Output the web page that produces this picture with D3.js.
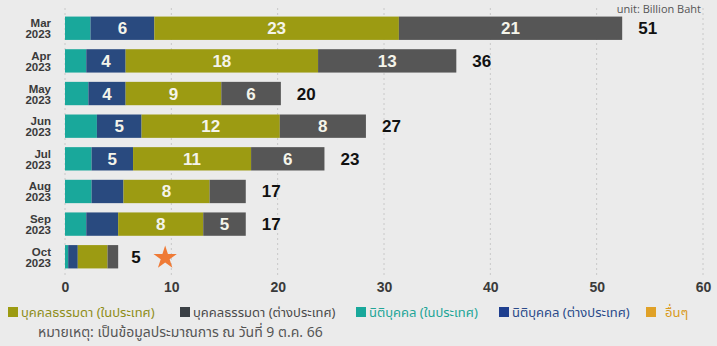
<!DOCTYPE html>
<html><head><meta charset="utf-8">
<script src="https://cdn.jsdelivr.net/npm/d3@7"></script>
<style>
html,body{margin:0;padding:0;background:#ebebeb;}
svg{display:block;}
</style></head>
<body>
<script>
// ---- data ----
const months = ["Mar","Apr","May","Jun","Jul","Aug","Sep","Oct"];
const years = ["2023","2023","2023","2023","2023","2023","2023","2023"];
const seriesKeys = ["corpDom","corpFor","indDom","indFor"];
const corpDom = [2.4, 2.0, 2.2, 3.0, 2.5, 2.5, 2.0, 0.3];   // นิติบุคคล (ในประเทศ)
const corpFor = [6.0, 3.7, 3.5, 4.2, 3.9, 3.0, 3.0, 0.9];   // นิติบุคคล (ต่างประเทศ)
const indDom  = [23.0, 18.1, 9.0, 13.0, 11.1, 8.1, 8.0, 2.8]; // บุคคลธรรมดา (ในประเทศ)
const indFor  = [21.0, 13.0, 5.6, 8.1, 6.9, 3.4, 4.0, 1.0];  // บุคคลธรรมดา (ต่างประเทศ)
const labCorpFor = ["6","4","4","5","5","","",""];
const labIndDom  = ["23","18","9","12","11","8","8",""];
const labIndFor  = ["21","13","6","8","6","","5",""];
const totals = ["51","36","20","27","23","17","17","5"];
const xTicks = [0,10,20,30,40,50,60];
const legendLabels = ["บุคคลธรรมดา (ในประเทศ)","บุคคลธรรมดา (ต่างประเทศ)","นิติบุคคล (ในประเทศ)","นิติบุคคล (ต่างประเทศ)","อื่นๆ"];
const unitText = "unit: Billion Baht";
const noteText = "หมายเหตุ: เป็นข้อมูลประมาณการ ณ วันที่ 9 ต.ค. 66";

const colors = {corpDom:"#19a89b", corpFor:"#294a7f", indDom:"#9c9b12", indFor:"#565656", other:"#e0a127"};
const legendColors = [colors.indDom, "#3b4045", colors.corpDom, "#1f3f8f", colors.other];
const legendTextColors = ["#8e8d18", "#4a4a4a", "#22a597", "#2a4a8a", "#d99a20"];

const W = 717, H = 346;
const svg = d3.select("body").append("svg").attr("width", W).attr("height", H);
svg.append("rect").attr("width", W).attr("height", H).attr("fill", "#ebebeb");

const x = d3.scaleLinear().domain([0,60]).range([65, 703]);
const y = d3.scaleBand().domain(months).range([12, 273]).paddingInner(0.285).paddingOuter(0.14);

const font = "'Liberation Sans', Arial, sans-serif";
const thaiFont = "'Noto Sans Thai','Noto Sans','DejaVu Sans',sans-serif";

// grid
svg.append("g").selectAll("line").data(xTicks).join("line")
  .attr("x1", d => x(d)).attr("x2", d => x(d))
  .attr("y1", 8).attr("y2", 276)
  .attr("stroke", "#c8c8c8").attr("stroke-width", 1).attr("stroke-dasharray", "2,3");

// stacked data
const rows = months.map((m, i) => ({month: m, corpDom: corpDom[i], corpFor: corpFor[i], indDom: indDom[i], indFor: indFor[i]}));
const stack = d3.stack().keys(seriesKeys)(rows);
const labels = {corpDom: months.map(() => ""), corpFor: labCorpFor, indDom: labIndDom, indFor: labIndFor};

const gBars = svg.append("g");
stack.forEach(layer => {
  const key = layer.key;
  const g = gBars.append("g");
  g.selectAll("rect").data(layer).join("rect")
    .attr("x", d => x(d[0]))
    .attr("width", d => x(d[1]) - x(d[0]))
    .attr("y", (d, i) => y(months[i]))
    .attr("height", y.bandwidth())
    .attr("fill", colors[key]);
  g.selectAll("text").data(layer).join("text")
    .attr("x", d => (x(d[0]) + x(d[1])) / 2)
    .attr("y", (d, i) => y(months[i]) + y.bandwidth() / 2 + 6)
    .attr("text-anchor", "middle")
    .attr("font-family", font).attr("font-weight", "bold").attr("font-size", 17)
    .attr("fill", "#f4f4ea")
    .text((d, i) => labels[key][i]);
});

// totals
const last = stack[stack.length - 1];
svg.append("g").selectAll("text").data(last).join("text")
  .attr("x", (d, i) => x(d[1]) + (i === months.length - 1 ? 13 : 16))
  .attr("y", (d, i) => y(months[i]) + y.bandwidth() / 2 + 6)
  .attr("font-family", font).attr("font-weight", "bold").attr("font-size", 17)
  .attr("fill", "#111")
  .text((d, i) => totals[i]);

// star next to Oct
const lastIdx = months.length - 1;
svg.append("path")
  .attr("d", d3.symbol().type(d3.symbolStar).size(170)())
  .attr("transform", `translate(${x(last[lastIdx][1]) + 47},${y(months[lastIdx]) + y.bandwidth()/2 + 1})`)
  .attr("fill", "#ef7a35");

// y labels (two separate lines)
const ylg = svg.append("g").attr("font-family", font).attr("font-weight", "bold")
  .attr("font-size", 11.5).attr("fill", "#3a3a3a").attr("text-anchor", "end");
ylg.selectAll("text.m").data(months).join("text").attr("class", "m")
  .attr("x", 51).attr("y", d => y(d) + y.bandwidth()/2 - 1).text(d => d);
ylg.selectAll("text.yr").data(months).join("text").attr("class", "yr")
  .attr("x", 51).attr("y", d => y(d) + y.bandwidth()/2 + 10).text((d, i) => years[i]);

// x axis
const xAxis = svg.append("g").attr("transform", "translate(0,276)")
  .call(d3.axisBottom(x).tickValues(xTicks).tickSize(0).tickPadding(6));
xAxis.select(".domain").remove();
xAxis.selectAll("text").attr("font-family", font).attr("font-weight", "bold").attr("font-size", 14).attr("fill", "#3a3a3a");

// unit
svg.append("text").attr("x", 701).attr("y", 13).attr("text-anchor", "end")
  .attr("font-family", "'Open Sans', 'Noto Sans', sans-serif").attr("font-size", 11).attr("fill", "#555")
  .text(unitText);

// legend
const legX = [8, 180, 356, 499, 646];
const lg = svg.append("g").selectAll("g").data(legendLabels).join("g")
  .attr("transform", (d, i) => `translate(${legX[i]},312)`);
lg.append("rect").attr("x", 0).attr("y", -5).attr("width", 10).attr("height", 10)
  .attr("fill", (d, i) => legendColors[i]);
lg.append("text").attr("x", (d, i) => i === 4 ? 19 : 13).attr("y", 5)
  .attr("font-family", thaiFont).attr("font-size", 13)
  .attr("fill", (d, i) => legendTextColors[i])
  .text(d => d);

// note
svg.append("text").attr("x", 38).attr("y", 337)
  .attr("font-family", thaiFont).attr("font-size", 14).attr("fill", "#555")
  .text(noteText);
</script>
</body></html>
